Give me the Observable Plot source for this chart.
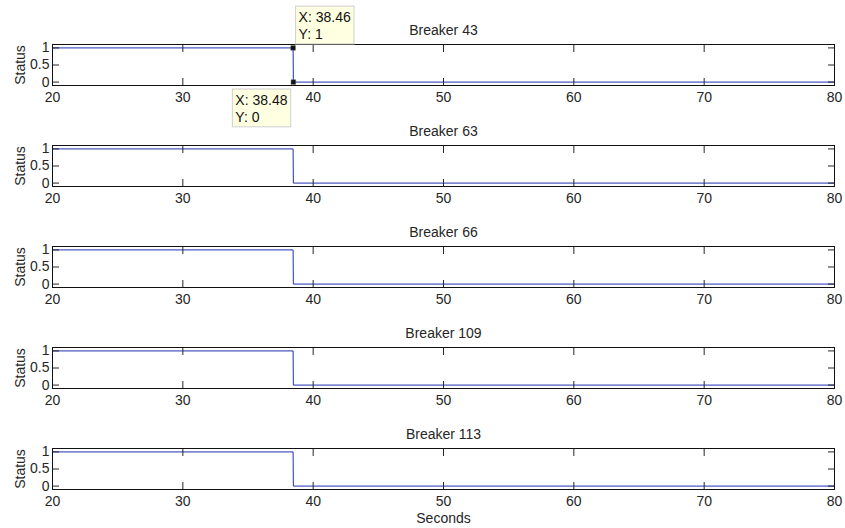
<!DOCTYPE html>
<html><head><meta charset="utf-8">
<script src="https://cdn.jsdelivr.net/npm/d3@7"></script>
<script src="https://cdn.jsdelivr.net/npm/@observablehq/plot@0.6"></script>
<style>
html,body{margin:0;padding:0;background:#fff;}
#chart{position:relative;width:845px;height:528px;overflow:hidden;background:#fff;}
#chart svg{position:absolute;left:0;overflow:visible;}
</style></head><body><div id="chart"></div>
<script>
// ---- data ----
const breakers = ["Breaker 43", "Breaker 63", "Breaker 66", "Breaker 109", "Breaker 113"];
const seconds = [20, 38.46, 38.48, 80];
const status43 = [1, 1, 0, 0];
const status63 = [1, 1, 0, 0];
const status66 = [1, 1, 0, 0];
const status109 = [1, 1, 0, 0];
const status113 = [1, 1, 0, 0];
const statusSeries = [status43, status63, status66, status109, status113];
const xTicks = [20, 30, 40, 50, 60, 70, 80];
const yTicks = [0, 0.5, 1];
const tipX = [38.46, 38.48];
const tipY = [1, 0];
const xLabel = "Seconds";
const yLabel = "Status";

// ---- layout ----
const W = 845, MT = 44, MB = 39, FH = 41, ML = 52, MR = 11, STEP = 101;
const LINE = "#1f30ae", INK = "#262626";
const container = document.getElementById("chart");

breakers.forEach((name, i) => {
  const rows = seconds.map((t, j) => ({t, s: statusSeries[i][j]}));
  const marks = [
    Plot.line(rows, {x: "t", y: "s", stroke: LINE, strokeWidth: 1}),
    Plot.axisX({anchor: "bottom", label: null, ticks: xTicks, tickSize: 0, tickPadding: 6.5, tickFormat: d => String(d)}),
    Plot.axisX({anchor: "bottom", label: null, ticks: xTicks, tickSize: -7, tickFormat: () => ""}),
    Plot.axisX({anchor: "top", label: null, ticks: xTicks, tickSize: -7, tickFormat: () => ""}),
    Plot.axisY({anchor: "left", label: null, ticks: yTicks, tickSize: 0, tickPadding: 3, tickFormat: d => String(d)}),
    Plot.axisY({anchor: "left", label: null, ticks: yTicks, tickSize: -7, tickFormat: () => ""}),
    Plot.axisY({anchor: "right", label: null, ticks: yTicks, tickSize: -7, tickFormat: () => ""}),
    Plot.frame({stroke: "#111", strokeWidth: 1}),
    Plot.text([name], {frameAnchor: "top", dy: -10, lineAnchor: "bottom", fill: INK}),
    Plot.text([yLabel], {frameAnchor: "left", rotate: -90, dx: -28, lineAnchor: "bottom", textAnchor: "middle", fill: INK})
  ];
  if (i === breakers.length - 1) {
    marks.push(Plot.text([xLabel], {frameAnchor: "bottom", dy: 33, lineAnchor: "bottom", fill: INK}));
  }
  if (i === 0) {
    const tips = tipX.map((x, k) => ({x, y: tipY[k], label: `X: ${x}\nY: ${tipY[k]}`}));
    marks.push(
      Plot.dot(tips, {x: "x", y: "y", symbol: "square", r: 2.6, fill: "#111", stroke: "#555", strokeWidth: 0.5}),
      Plot.text(tips.slice(0, 1), {x: "x", y: "y", text: "label", textAnchor: "start", lineAnchor: "bottom", lineHeight: 1.2, dx: 5.5, dy: -9, fill: "#111"}),
      Plot.text(tips.slice(1, 2), {x: "x", y: "y", text: "label", textAnchor: "start", lineAnchor: "top", lineHeight: 1.2, dx: -58, dy: 11, fill: "#111"})
    );
  }
  const svg = Plot.plot({
    width: W,
    height: MT + FH + MB,
    marginTop: MT, marginBottom: MB, marginLeft: ML, marginRight: MR,
    x: {domain: [20, 80], label: null},
    y: {domain: [-0.1, 1.1], label: null},
    style: {fontFamily: "'Liberation Sans', Arial, sans-serif", fontSize: "14px", color: INK, background: "transparent", overflow: "visible"},
    marks
  });
  svg.style.top = (STEP * i) + "px";
  container.appendChild(svg);
  d3.select(svg).selectAll("text").filter(function () {
    return (this.textContent || "").startsWith("X: ");
  }).each(function () {
    const node = this;
    const b = node.getBBox();
    d3.select(node.parentNode).insert("rect", () => node)
      .attr("x", b.x - 3).attr("y", b.y - 3)
      .attr("width", b.width + 6).attr("height", b.height + 5)
      .attr("transform", node.getAttribute("transform"))
      .attr("fill", "#ffffe1").attr("stroke", "#cfcfcf").attr("stroke-width", 1);
  });
});
</script>
</body></html>
